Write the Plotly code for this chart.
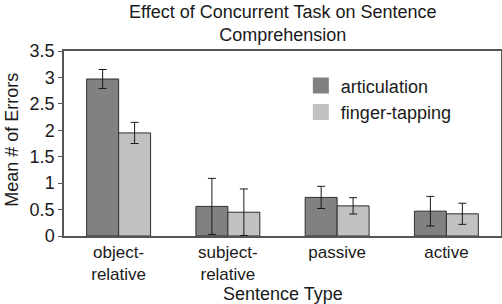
import plotly.graph_objects as go

categories = ["object-<br>relative", "subject-<br>relative", "passive", "active"]
series_names = ["articulation", "finger-tapping"]
articulation = [2.97, 0.56, 0.73, 0.47]
articulation_err = [0.18, 0.53, 0.21, 0.28]
finger_tapping = [1.95, 0.45, 0.57, 0.42]
finger_tapping_err = [0.2, 0.44, 0.155, 0.2]
y_ticks = [0, 0.5, 1, 1.5, 2, 2.5, 3, 3.5]
y_tick_labels = ["0", "0.5", "1", "1.5", "2", "2.5", "3", "3.5"]

font = "Liberation Sans, Arial, Helvetica, sans-serif"
txt = "#1a1a1a"
colors = ["#818181", "#c1c1c1"]

fig = go.Figure()
for name, vals, errs, col in zip(series_names, [articulation, finger_tapping],
                                 [articulation_err, finger_tapping_err], colors):
    fig.add_trace(go.Bar(
        name=name, x=categories, y=vals, showlegend=False,
        marker=dict(color=col, line=dict(color="#2e2e2e", width=1)),
        error_y=dict(type="data", array=errs, color="#1a1a1a", thickness=1, width=4),
    ))
# legend entries (square swatches)
for name, col in zip(series_names, colors):
    fig.add_trace(go.Scatter(
        name=name, x=[None], y=[None], mode="markers",
        marker=dict(symbol="square", size=16, color=col, line=dict(width=0)),
    ))

fig.update_layout(
    width=502, height=304,
    margin=dict(l=64, r=1, t=51, b=68, autoexpand=False),
    paper_bgcolor="white", plot_bgcolor="white",
    font=dict(family=font, size=18, color=txt),
    barmode="group", bargap=0.415, bargroupgap=0,
    showlegend=True,
    legend=dict(x=0.542, y=0.912, xanchor="left", yanchor="top",
                bgcolor="rgba(0,0,0,0)", font=dict(size=18, color=txt),
                itemsizing="trace", tracegroupgap=0, itemwidth=30),
    xaxis=dict(showline=True, linecolor="#555555", linewidth=1.5, mirror=True,
               ticks="", tickfont=dict(size=17), automargin=False),
    yaxis=dict(range=[0, 3.5], tickvals=y_ticks, ticktext=y_tick_labels,
               showline=True, linecolor="#555555", linewidth=1.5, mirror=True,
               ticks="outside", ticklen=4, tickcolor="#555555", showgrid=False,
               zeroline=False, tickfont=dict(size=18), automargin=False),
    annotations=[
        dict(text="Effect of Concurrent Task on Sentence<br>Comprehension",
             xref="paper", yref="paper", x=0.5, y=1.275,
             xanchor="center", yanchor="top", showarrow=False,
             font=dict(family=font, size=18, color=txt)),
        dict(text="Sentence Type", xref="paper", yref="paper", x=0.5, y=-0.314,
             xanchor="center", yanchor="middle", showarrow=False,
             font=dict(family=font, size=18, color=txt)),
        dict(text="Mean # of Errors", xref="paper", yref="paper", x=-0.119, y=0.52,
             xanchor="center", yanchor="middle", textangle=-90, showarrow=False,
             font=dict(family=font, size=18, color=txt)),
    ],
)

fig.write_html("out.html", config={"displayModeBar": False},
               post_script="document.body.style.margin='0';document.body.style.overflow='hidden';")
